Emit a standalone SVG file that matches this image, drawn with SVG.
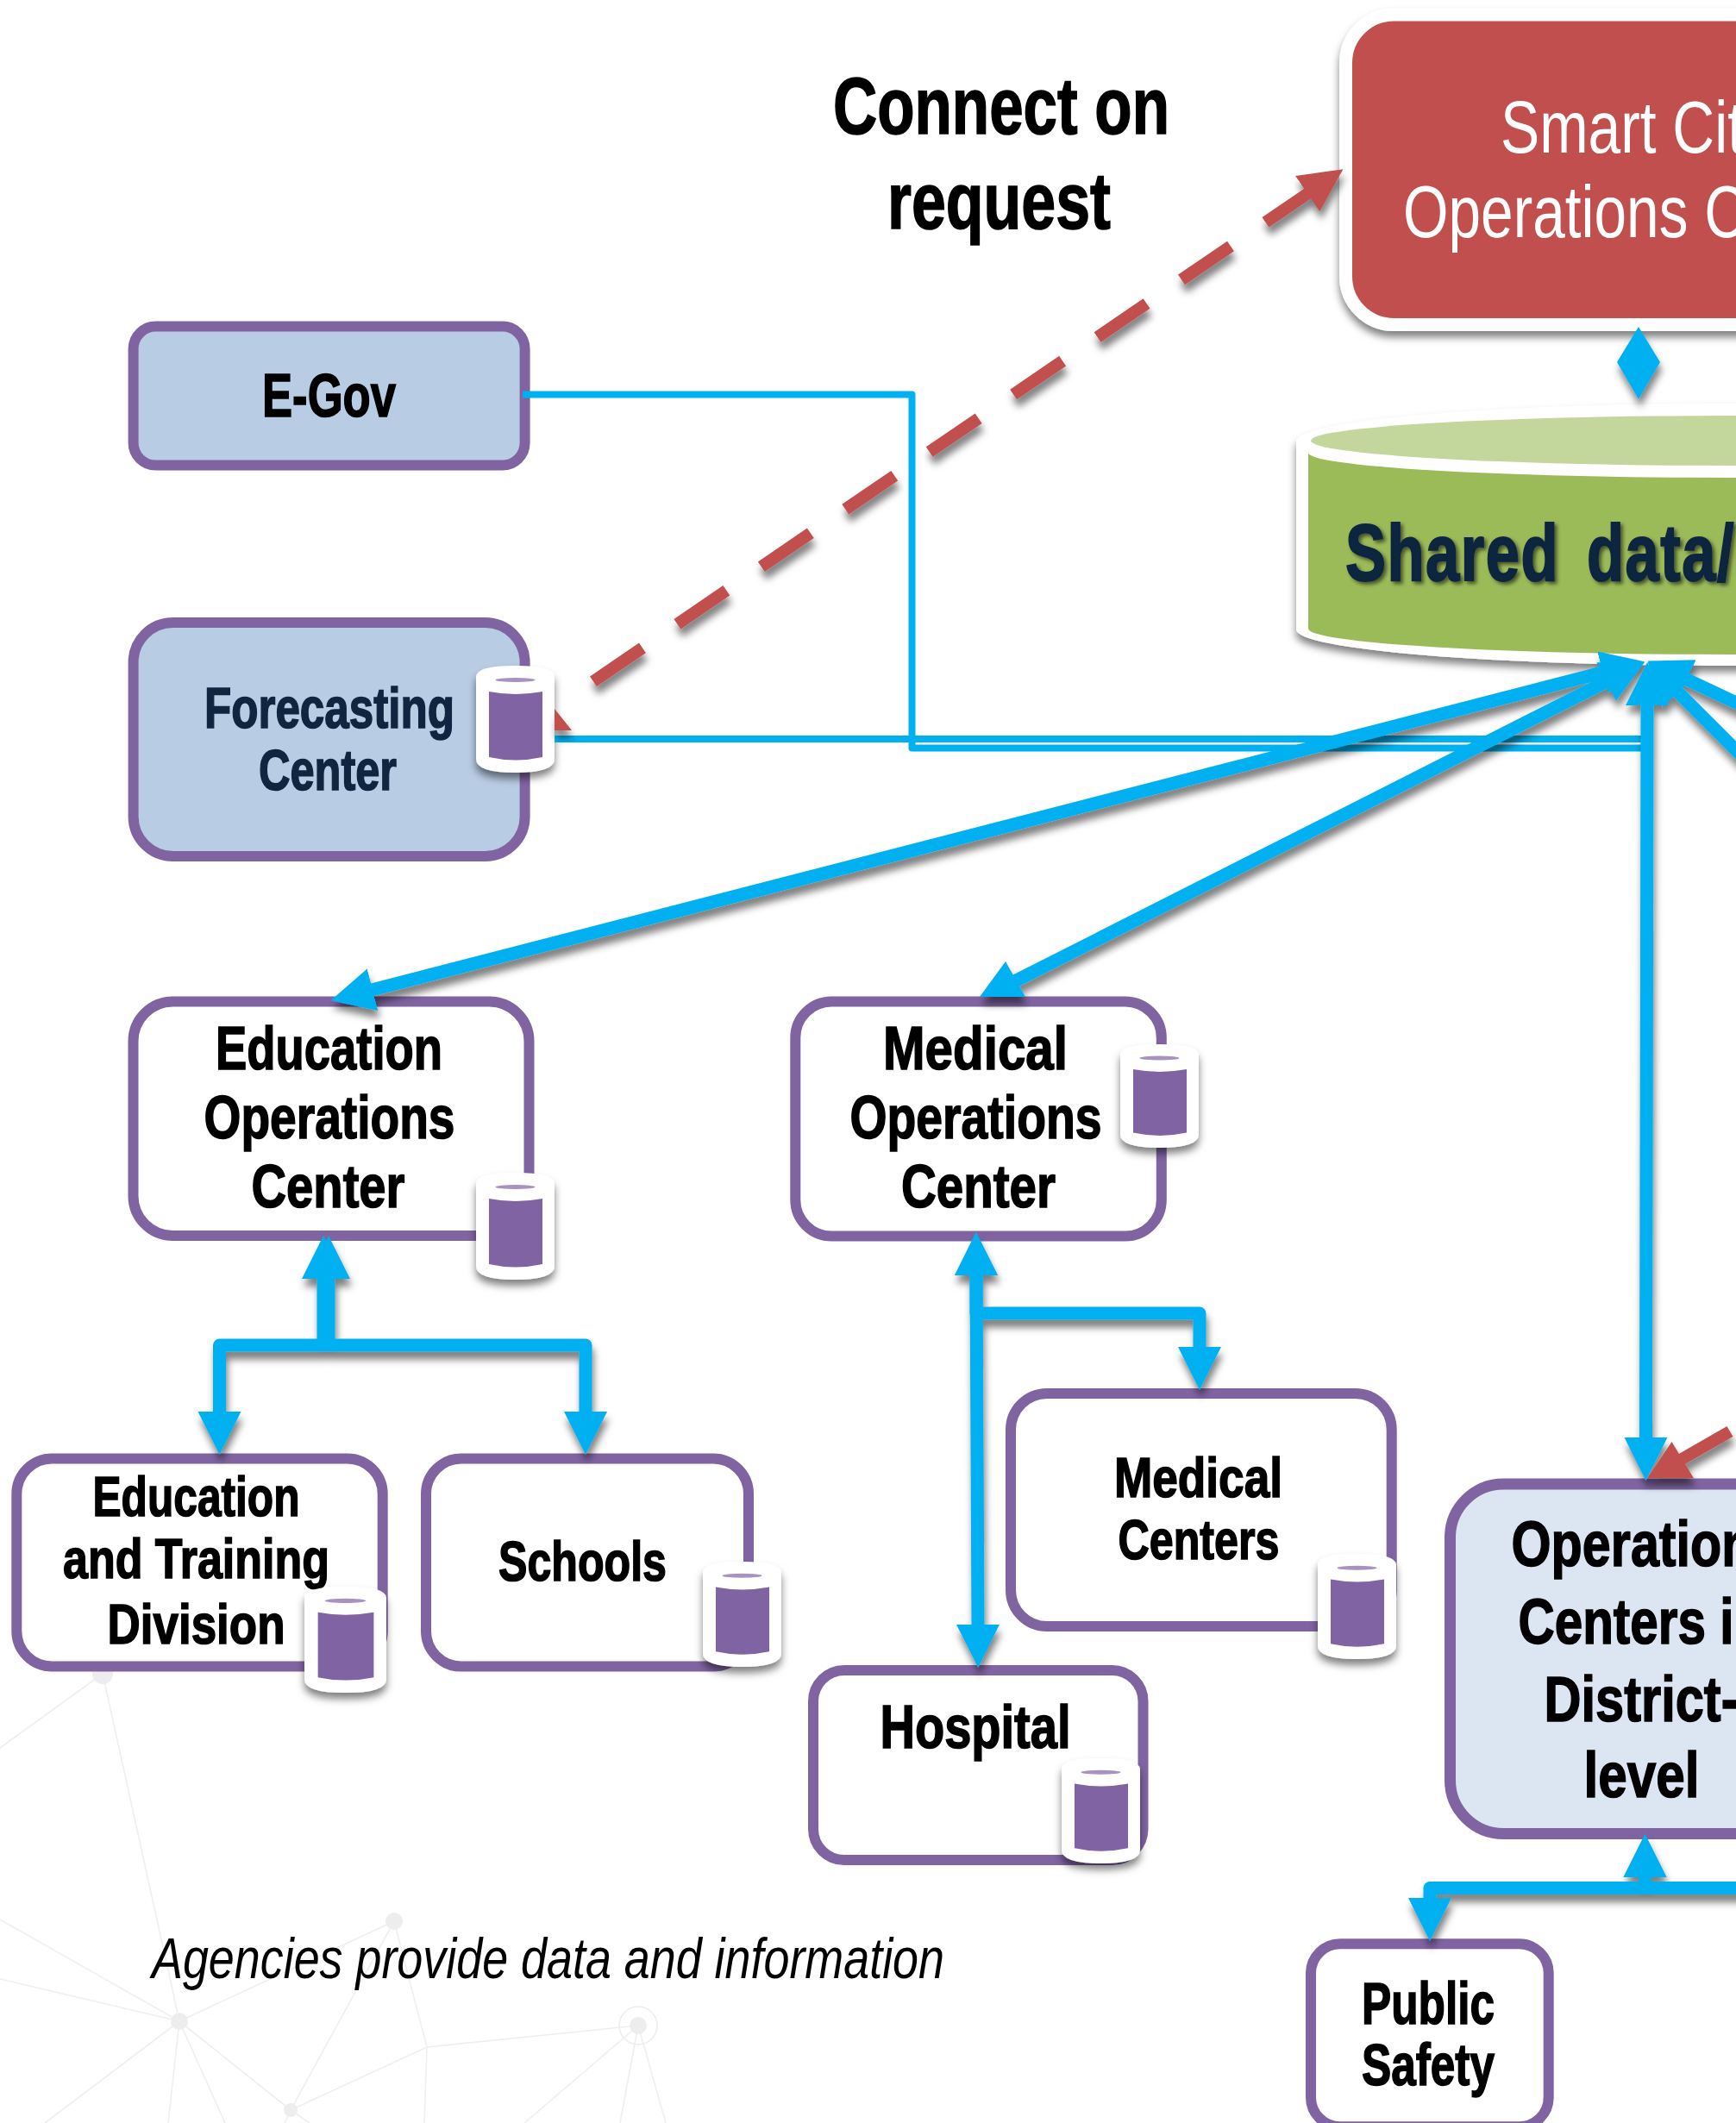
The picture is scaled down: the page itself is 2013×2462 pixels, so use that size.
<svg xmlns="http://www.w3.org/2000/svg" width="2013" height="2462" viewBox="0 0 2013 2462">
<style>
text{font-family:"Liberation Sans",Arial,sans-serif}
.b{font-weight:700;fill:#000;stroke:#000;stroke-width:1.6}
.n{font-weight:700;fill:#10253F;stroke:#10253F;stroke-width:1.6}
.box{stroke:#8064A2;stroke-width:12;fill:#fff}
.blue{fill:#B8CCE4}
.pale{fill:#DCE6F2}
.bl{fill:none;stroke:#00B0F0;stroke-linejoin:round}
.thick{stroke-width:15}
.thin{stroke-width:8}
.red{fill:none;stroke:#C0504D;stroke-width:14}
.net line{stroke:#EFEFEF;stroke-width:1.6}
.net circle{fill:#EDEDED}
</style>
<defs>
<filter id="sh" filterUnits="userSpaceOnUse" x="0" y="0" width="2013" height="2462"><feDropShadow dx="2" dy="9" stdDeviation="4.5" flood-color="#000" flood-opacity=".5"/></filter>
<filter id="shc" x="-30%" y="-20%" width="160%" height="150%"><feDropShadow dx="0" dy="7" stdDeviation="5" flood-color="#000" flood-opacity=".5"/></filter>
<filter id="sht" x="-5%" y="-10%" width="110%" height="125%"><feDropShadow dx="3" dy="3" stdDeviation="2" flood-color="#000" flood-opacity=".55"/></filter>
<marker id="hb" markerUnits="userSpaceOnUse" markerWidth="52" markerHeight="52" viewBox="0 -26 52 52" refX="1" refY="0" orient="auto-start-reverse"><path d="M0,-25 L50,0 L0,25 Z" fill="#00B0F0"/></marker>
<marker id="hr" markerUnits="userSpaceOnUse" markerWidth="52" markerHeight="52" viewBox="0 -26 52 52" refX="1" refY="0" orient="auto-start-reverse"><path d="M0,-25 L50,0 L0,25 Z" fill="#C0504D"/></marker>
<symbol id="cyl" viewBox="0 0 91 124" preserveAspectRatio="none" overflow="visible">
<path d="M0,13 Q0,0 45.5,0 Q91,0 91,13 L91,108 Q91,124 45.5,124 Q0,124 0,108 Z" fill="#fff"/>
<path d="M15,30 Q45.5,36 77,30 L77,106 Q45.5,113 15,106 Z" fill="#8064A2"/>
<ellipse cx="45.5" cy="16.5" rx="23" ry="2.6" fill="#A893C0"/>
</symbol>
</defs>
<rect width="2013" height="2462" fill="#fff"/>
<g id="background" class="net">
<line x1="119" y1="1941" x2="0" y2="2027"/><line x1="119" y1="1941" x2="208" y2="2344"/><line x1="0" y1="2226" x2="208" y2="2344"/><line x1="0" y1="2295" x2="208" y2="2344"/><line x1="208" y1="2344" x2="457" y2="2228"/><line x1="208" y1="2344" x2="52" y2="2462"/><line x1="208" y1="2344" x2="195" y2="2462"/><line x1="208" y1="2344" x2="261" y2="2462"/><line x1="208" y1="2344" x2="337" y2="2447"/><line x1="457" y1="2228" x2="337" y2="2447"/><line x1="457" y1="2228" x2="495" y2="2374"/><line x1="337" y1="2447" x2="495" y2="2374"/><line x1="495" y1="2374" x2="740" y2="2349"/><line x1="495" y1="2374" x2="492" y2="2462"/><line x1="337" y1="2447" x2="330" y2="2462"/><line x1="337" y1="2447" x2="359" y2="2462"/><line x1="740" y1="2349" x2="608" y2="2462"/><line x1="740" y1="2349" x2="719" y2="2462"/><line x1="740" y1="2349" x2="772" y2="2462"/>
<circle cx="119" cy="1941" r="12"/><circle cx="208" cy="2344" r="10"/><circle cx="457" cy="2228" r="10"/><circle cx="337" cy="2447" r="8"/><circle cx="740" cy="2349" r="10"/><circle cx="740" cy="2349" r="22" style="fill:none;stroke:#EDEDED;stroke-width:1.6"/>
</g>
<g id="caption-connect">
<text class="b" x="966" y="155" font-size="93" textLength="390" lengthAdjust="spacingAndGlyphs">Connect on</text>
<text class="b" x="1029" y="265" font-size="93" textLength="259" lengthAdjust="spacingAndGlyphs">request</text>
</g>
<g id="caption-agencies">
<text x="176" y="2294" font-size="67" font-style="italic" fill="#000" textLength="919" lengthAdjust="spacingAndGlyphs">Agencies provide data and information</text>
</g>
<g id="smart-city">
<rect x="1560.5" y="17" width="700" height="359.5" rx="56" fill="#C0504D" stroke="#fff" stroke-width="15" filter="url(#shc)"/>
<text x="1740" y="177" font-size="86" fill="#fff" textLength="282" lengthAdjust="spacingAndGlyphs">Smart Cit</text>
<text x="1627" y="275" font-size="86" fill="#fff" textLength="398" lengthAdjust="spacingAndGlyphs">Operations C</text>
</g>
<g id="shared-data">
<path d="M1503,512 A507,44 0 0 1 2517,512 L2517,730 A507,42 0 0 1 1503,730 Z" fill="#fff" filter="url(#shc)"/>
<ellipse cx="2010" cy="511" rx="490" ry="29" fill="#C3D69B"/>
<path d="M1517,525 A493,29 0 0 0 2503,525 L2503,729 A493,30 0 0 1 1517,729 Z" fill="#9BBB59"/>
<text class="n" x="1560" y="673" font-size="92" textLength="452" lengthAdjust="spacingAndGlyphs" filter="url(#sht)" style="stroke-width:2;word-spacing:14px;letter-spacing:2px">Shared data/</text>
</g>
<g id="e-gov">
<rect class="box blue" x="154.6" y="378.6" width="454" height="161" rx="26"/>
<text class="b" x="304" y="483" font-size="70" textLength="155" lengthAdjust="spacingAndGlyphs">E-Gov</text>
</g>
<g id="forecasting-center">
<rect class="box blue" x="154.6" y="722" width="454" height="271" rx="46"/>
<text class="n" x="237" y="844" font-size="66" textLength="290" lengthAdjust="spacingAndGlyphs">Forecasting</text>
<text class="n" x="300" y="916" font-size="66" textLength="160" lengthAdjust="spacingAndGlyphs">Center</text>
<use href="#cyl" x="552" y="772" width="91" height="124" filter="url(#shc)"/>
</g>
<g id="education-operations-center">
<rect class="box" x="154.5" y="1161.5" width="459" height="271.5" rx="46"/>
<text class="b" x="250" y="1240" font-size="70" textLength="263" lengthAdjust="spacingAndGlyphs">Education</text>
<text class="b" x="236.5" y="1320" font-size="70" textLength="291" lengthAdjust="spacingAndGlyphs">Operations</text>
<text class="b" x="291.5" y="1400" font-size="70" textLength="178" lengthAdjust="spacingAndGlyphs">Center</text>
<use href="#cyl" x="552" y="1360" width="91" height="124" filter="url(#shc)"/>
</g>
<g id="medical-operations-center">
<rect class="box" x="922.3" y="1161.5" width="424.5" height="272" rx="42"/>
<text class="b" x="1024" y="1240" font-size="70" textLength="214" lengthAdjust="spacingAndGlyphs">Medical</text>
<text class="b" x="985.5" y="1320" font-size="70" textLength="292" lengthAdjust="spacingAndGlyphs">Operations</text>
<text class="b" x="1045" y="1400" font-size="70" textLength="179" lengthAdjust="spacingAndGlyphs">Center</text>
<use href="#cyl" x="1299" y="1211" width="91" height="120" filter="url(#shc)"/>
</g>
<g id="education-training-division">
<rect class="box" x="19.3" y="1691.6" width="424.4" height="241" rx="41"/>
<text class="b" x="107.5" y="1758" font-size="65" textLength="240" lengthAdjust="spacingAndGlyphs">Education</text>
<text class="b" x="73" y="1830" font-size="65" textLength="309" lengthAdjust="spacingAndGlyphs">and Training</text>
<text class="b" x="124.5" y="1906" font-size="65" textLength="206" lengthAdjust="spacingAndGlyphs">Division</text>
<use href="#cyl" x="353" y="1840" width="95" height="123" filter="url(#shc)"/>
</g>
<g id="schools">
<rect class="box" x="494" y="1691.6" width="374" height="241" rx="41"/>
<text class="b" x="578" y="1832.5" font-size="65" textLength="195" lengthAdjust="spacingAndGlyphs">Schools</text>
<use href="#cyl" x="815" y="1811" width="91" height="122" filter="url(#shc)"/>
</g>
<g id="medical-centers">
<rect class="box" x="1172" y="1616" width="441.7" height="270" rx="42"/>
<text class="b" x="1292" y="1735.5" font-size="65" textLength="195" lengthAdjust="spacingAndGlyphs">Medical</text>
<text class="b" x="1296.5" y="1808" font-size="65" textLength="187" lengthAdjust="spacingAndGlyphs">Centers</text>
<use href="#cyl" x="1528" y="1802" width="91" height="122" filter="url(#shc)"/>
</g>
<g id="hospital">
<rect class="box" x="943" y="1937" width="382.5" height="220" rx="36"/>
<text class="b" x="1020.5" y="2027" font-size="70" textLength="221" lengthAdjust="spacingAndGlyphs">Hospital</text>
<use href="#cyl" x="1231" y="2039" width="91" height="122" filter="url(#shc)"/>
</g>
<g id="operations-centers-district">
<rect class="box pale" style="stroke-width:13" x="1681.5" y="1721" width="600" height="405.5" rx="62"/>
<text class="b" x="1752.5" y="1815.5" font-size="75" textLength="280" lengthAdjust="spacingAndGlyphs">Operation</text>
<text class="b" x="1760.5" y="1906" font-size="75" textLength="250" lengthAdjust="spacingAndGlyphs">Centers i</text>
<text class="b" x="1790.5" y="1995.5" font-size="75" textLength="225" lengthAdjust="spacingAndGlyphs">District-</text>
<text class="b" x="1836.5" y="2084" font-size="75" textLength="134" lengthAdjust="spacingAndGlyphs">level</text>
</g>
<g id="public-safety">
<rect class="box" x="1520" y="2254.3" width="275.7" height="212" rx="34"/>
<text class="b" x="1579" y="2347" font-size="68" textLength="154" lengthAdjust="spacingAndGlyphs">Public</text>
<text class="b" x="1579" y="2418" font-size="68" textLength="154" lengthAdjust="spacingAndGlyphs">Safety</text>
</g>
<g id="connectors">
<path class="bl thin" d="M606,457.5 H1057.5 V867.5 H1903"/>
<path class="bl thin" d="M643,857 H1903"/>
<g filter="url(#sh)">
<path class="red" d="M1517,224 L665,806" stroke-dasharray="69 49" stroke-dashoffset="9" marker-start="url(#hr)"/>
<polygon points="643,822 663,847 643,847" fill="#C0504D"/>
<path class="red" d="M2006,1660 L1945,1695"/>
<polygon points="1938.5,1672 1964,1714.3 1910,1714.3" fill="#C0504D"/>
<path class="bl thick" d="M1955,787.5 L2060,837" marker-start="url(#hb)"/>
<path class="bl thick" d="M1945,802 L2040,897" marker-start="url(#hb)"/>
<path class="bl thick" d="M1859.5,779.5 L431,1148" marker-start="url(#hb)" marker-end="url(#hb)"/>
<path class="bl thick" d="M1863.5,790 L1177.5,1137.5" marker-start="url(#hb)"/>
<polygon points="1166,1115 1189,1156 1136,1156" fill="#00B0F0"/>
<path class="bl thick" d="M1910,817 L1908.5,1668" marker-start="url(#hb)" marker-end="url(#hb)"/>
<polygon points="1900,379 1925,420 1900,463 1875,420" fill="#00B0F0"/>
<path class="bl thick" d="M375,1482 V1560 H254.5 V1638" marker-start="url(#hb)" marker-end="url(#hb)"/>
<path class="bl thick" d="M381,1482 V1560 H679 V1638" marker-start="url(#hb)" marker-end="url(#hb)"/>
<path class="bl thick" d="M1132,1478 V1523 H1391 V1563" marker-start="url(#hb)" marker-end="url(#hb)"/>
<path class="bl thick" d="M1132,1478 L1134,1885" marker-start="url(#hb)" marker-end="url(#hb)"/>
<path class="bl thick" d="M1907.5,2176 V2189.5 H1658 V2202" marker-start="url(#hb)" marker-end="url(#hb)"/>
<path class="bl thick" d="M1907.5,2176 V2189.5 H2030" marker-start="url(#hb)"/>
</g>
</g>
</svg>
